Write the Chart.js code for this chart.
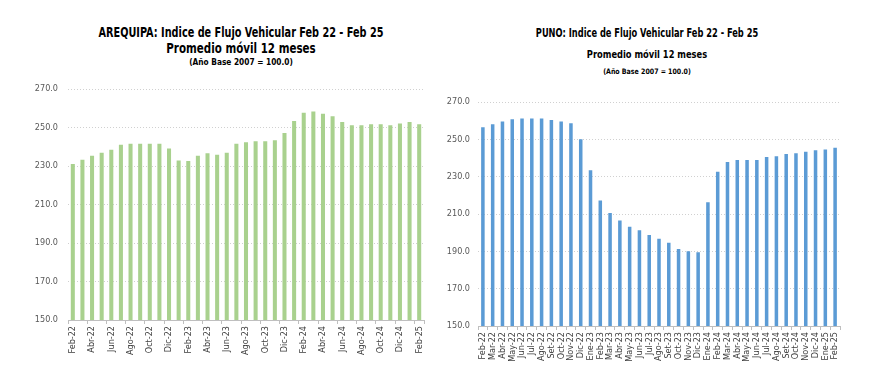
<!DOCTYPE html>
<html lang="es">
<head>
  <meta charset="UTF-8" />
  <title>Indice de Flujo Vehicular</title>
  <script src="https://cdn.jsdelivr.net/npm/chart.js"></script>
  <style>
    body { margin: 0; background: #fff; width: 870px; height: 379px; overflow: hidden; position: relative;
      font-family: "Liberation Sans Narrow", "DejaVu Sans Condensed", sans-serif; }
    .t { position: absolute; white-space: nowrap; font-weight: bold; color: #000; line-height: 1; }
    .box { position: absolute; top: 0; width: 435px; height: 379px; }
    canvas { display: block; }
  </style>
</head>
<body>
  <div class="t" style="left:241px; top:26px; font-size:13.5px; transform:translateX(-50%) scaleX(0.8);">AREQUIPA: Indice de Flujo Vehicular Feb 22 - Feb 25</div>
  <div class="t" style="left:241px; top:42px; font-size:13.5px; transform:translateX(-50%) scaleX(0.85);">Promedio móvil 12 meses</div>
  <div class="t" style="left:241px; top:58px; font-size:8.5px; transform:translateX(-50%) scaleX(0.97);">(Año Base 2007 = 100.0)</div>

  <div class="t" style="left:647px; top:28px; font-size:11.5px; transform:translateX(-50%) scaleX(0.8);">PUNO: Indice de Flujo Vehicular Feb 22 - Feb 25</div>
  <div class="t" style="left:647px; top:49px; font-size:11px; transform:translateX(-50%) scaleX(0.84);">Promedio móvil 12 meses</div>
  <div class="t" style="left:647px; top:68px; font-size:7.5px; transform:translateX(-50%) scaleX(0.93);">(Año Base 2007 = 100.0)</div>

  <div class="box" style="left:0"><canvas id="arequipa" width="435" height="379"></canvas></div>
  <div class="box" style="left:435px"><canvas id="puno" width="435" height="379"></canvas></div>

  <script>
    const meses = ["Feb-22","Mar-22","Abr-22","May-22","Jun-22","Jul-22","Ago-22","Set-22","Oct-22","Nov-22","Dic-22",
      "Ene-23","Feb-23","Mar-23","Abr-23","May-23","Jun-23","Jul-23","Ago-23","Set-23","Oct-23","Nov-23","Dic-23",
      "Ene-24","Feb-24","Mar-24","Abr-24","May-24","Jun-24","Jul-24","Ago-24","Set-24","Oct-24","Nov-24","Dic-24",
      "Ene-25","Feb-25"];

    const arequipa = [231.0,233.3,235.3,236.9,238.4,241.0,241.5,241.5,241.5,241.5,239.1,
      232.9,232.6,235.3,236.6,235.9,236.9,241.5,242.4,242.8,242.8,243.4,247.1,
      253.4,257.6,258.3,257.1,255.9,252.8,251.2,251.2,251.7,251.7,251.2,252.1,
      252.8,251.7];

    const puno = [256.5,258.1,259.5,260.8,261.1,261.1,261.1,260.4,259.5,258.6,250.1,
      233.4,217.2,210.6,206.5,203.2,201.3,198.8,196.7,194.6,191.2,190.0,189.5,
      216.3,232.7,237.8,238.9,238.9,238.9,240.5,241.0,242.1,242.6,243.3,244.2,
      244.6,245.5];

    const yTicks = [150, 170, 190, 210, 230, 250, 270];

    const tickFont = { family: "'Liberation Sans Narrow', 'DejaVu Sans Condensed', sans-serif", size: 9 };

    function makeChart(id, data, color, opts) {
      return new Chart(document.getElementById(id), {
        type: "bar",
        data: {
          labels: meses,
          datasets: [{
            data,
            backgroundColor: color,
            borderWidth: 0,
            categoryPercentage: 1,
            barPercentage: opts.barPct
          }]
        },
        options: {
          responsive: false,
          animation: false,
          layout: { padding: { left: 0, right: opts.padRight, top: opts.padTop, bottom: 0 } },
          plugins: { legend: { display: false }, tooltip: { enabled: false } },
          scales: {
            x: {
              grid: {
                drawOnChartArea: false,
                drawTicks: true,
                tickLength: 4,
                tickColor: ctx => (opts.everyOther && ctx.index % 2 === 1) ? "rgba(0,0,0,0)" : "#bfbfbf"
              },
              border: { display: true, color: "#bfbfbf", width: 1 },
              ticks: {
                autoSkip: false,
                maxRotation: 90,
                minRotation: 90,
                padding: 2,
                color: "#404040",
                font: tickFont,
                callback: (v, i) => (opts.everyOther && i % 2 === 1) ? "" : meses[i]
              },
              afterFit: s => { s.height = opts.xHeight; }
            },
            y: {
              min: yTicks[0],
              max: yTicks[yTicks.length - 1],
              afterBuildTicks: s => { s.ticks = yTicks.map(v => ({ value: v })); },
              grid: { color: "#d0d0d0", drawTicks: false },
              border: { display: false, dash: [1, 2] },
              ticks: {
                padding: opts.yPad,
                color: "#595959",
                font: tickFont,
                callback: v => v.toFixed(1)
              },
              afterFit: s => { s.width = opts.yWidth; }
            }
          }
        }
      });
    }

    makeChart("arequipa", arequipa, "#a9d18e", {
      barPct: 0.42, padRight: 11, padTop: 89, xHeight: 59, yWidth: 68, yPad: 10, everyOther: true
    });
    makeChart("puno", puno, "#5b9bd5", {
      barPct: 0.36, padRight: 30, padTop: 102, xHeight: 53, yWidth: 43, yPad: 8, everyOther: false
    });
  </script>
</body>
</html>
